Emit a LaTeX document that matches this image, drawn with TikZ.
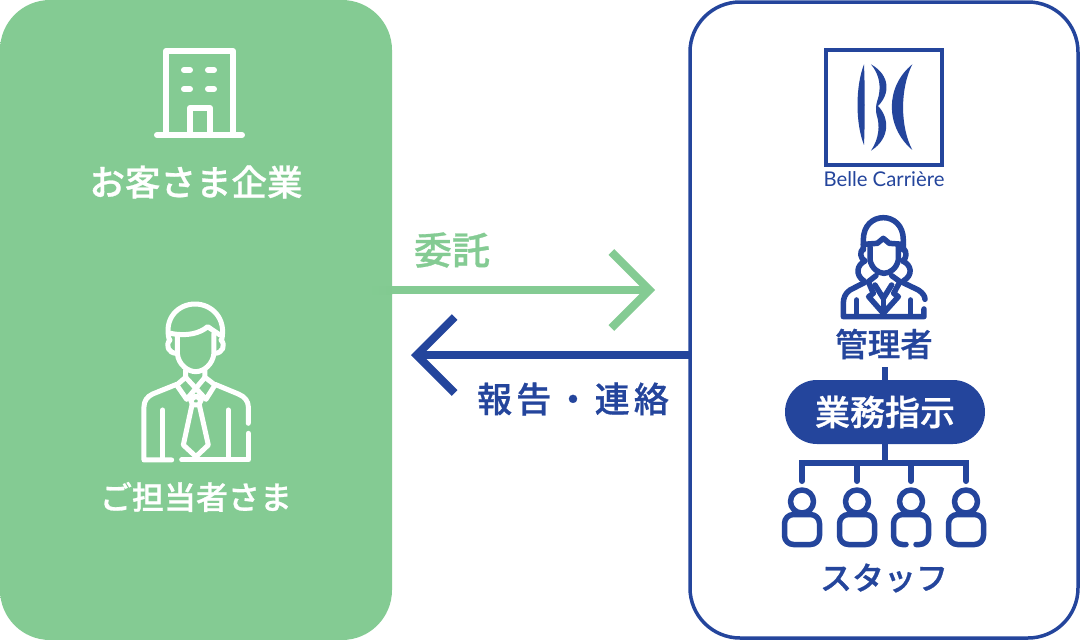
\documentclass[tikz,border=0pt]{standalone}
\usepackage{fontspec}
\usetikzlibrary{arrows.meta}
\newfontfamily\jp[FakeBold=0.8]{Noto Sans CJK JP Medium}
\newfontfamily\jpw[LetterSpace=12,FakeBold=0.8]{Noto Sans CJK JP Medium}
\newfontfamily\lat{Lato}
\definecolor{gr}{HTML}{84CB93}
\definecolor{grl}{HTML}{8FD19F}
\definecolor{grd}{HTML}{82CA91}
\definecolor{bl}{HTML}{24459C}
\pgfdeclarehorizontalshading{panelg}{100bp}{color(0bp)=(gr); color(87bp)=(gr); color(100bp)=(grl)}
\newcommand{\fs}[1]{\fontsize{#1}{#1}\selectfont}
\tikzset{
 x=1pt,y=-1pt,
 wicon/.style={draw=white,line width=5pt,line cap=round,line join=round},
 bicon/.style={draw=bl,line width=5.5pt,line cap=round,line join=round},
 wlabel/.style={text=white,font=\jp\fs{35.5}},
 blabel/.style={text=bl,font=\jp\fs{32.5}},
 panel/.style={rounded corners=50pt},
 tree/.style={draw=bl,line width=6pt,line cap=round},
 link/.style={line width=8pt,-{Straight Barb[length=38pt,width=76pt,line width=8pt]}},
}
\begin{document}
\begin{tikzpicture}
\useasboundingbox (0,0) rectangle (1080,640);
% panels
\shade[shading=panelg,panel] (0,0) rectangle (392,640);
\draw[bl,line width=3.5pt,panel,fill=white] (690,2) rectangle (1078,638);
\node[wlabel] (client) at (196,182) {お客さま企業};
\node[wlabel,font=\jp\fs{32}] (person) at (196,497) {ご担当者さま};
% building
\begin{scope}[wicon,line width=6pt]
\draw (166,135) -- (166,51) -- (233,51) -- (233,135);
\draw (157,135) -- (242,135);
\draw (190,135) -- (190,108) -- (210,108) -- (210,135);
\end{scope}
\foreach \wx/\wy in {187/70,211/70,187/89,211/89}
  \draw[wicon,line width=6pt] (\wx-3,\wy) -- (\wx+3,\wy);
% man
\begin{scope}[shift={(120,290)},x=0.3333pt,y=-0.3333pt,wicon,line width=5pt]
\draw (148,150) .. controls (130,85) and (175,42) .. (225,42) .. controls (275,42) and (320,85) .. (305,150);
\draw (152,130) .. controls (200,140) and (240,130) .. (263,110) -- (300,135);
\draw (172,135) -- (172,190) .. controls (175,225) and (205,245) .. (227,245) .. controls (250,245) and (278,225) .. (282,190) -- (282,130);
\draw (150,150) .. controls (135,165) and (145,190) .. (170,190);
\draw (303,150) .. controls (318,165) and (308,190) .. (284,190);
\draw (197,240) -- (197,262) -- (258,328) -- (285,285) -- (255,262) -- (255,240);
\draw (255,262) -- (200,328) -- (170,285) -- (197,262);
\draw (170,283) -- (98,312) .. controls (80,320) and (72,335) .. (72,350) -- (72,510) -- (155,510);
\draw (285,283) -- (355,312) .. controls (375,320) and (385,335) .. (385,350) -- (385,400);
\draw (385,430) -- (385,510) -- (185,510);
\draw (128,360) -- (128,505);
\draw (325,360) -- (325,505);
\draw (212,330) -- (228,318) -- (244,330) -- (236,345) -- (218,345) -- cycle;
\draw (216,345) -- (190,465) -- (228,500) -- (265,465) -- (238,345);
\end{scope}
% logo
\draw[bl,line width=4pt] (826,50) rectangle (942,165);
\begin{scope}[shift={(800,30)},x=0.3333pt,y=-0.3333pt]
\fill[bl] (192,103) .. controls (166,170) and (166,280) .. (192,345) .. controls (195,280) and (195,170) .. (192,103) -- cycle;
\fill[bl] (213,103) .. controls (270,135) and (272,190) .. (234,228) .. controls (268,262) and (272,325) .. (213,362) .. controls (238,325) and (240,285) .. (230,255) .. controls (226,240) and (228,225) .. (232,212) .. controls (245,175) and (240,135) .. (213,103) -- cycle;
\fill[bl] (337,103) .. controls (255,170) and (255,290) .. (337,360) .. controls (300,290) and (300,175) .. (337,103) -- cycle;
\end{scope}
\node[text=bl,font=\lat\fs{20.3}] (brand) at (884,179) {Belle Carrière};
% woman
\begin{scope}[shift={(820,205)},x=0.3333pt,y=-0.3333pt,bicon,line width=5.5pt]
\draw (130,135) -- (130,105) .. controls (130,60) and (160,38) .. (190,38) .. controls (220,38) and (250,60) .. (250,105) -- (250,135);
\draw (130,118) -- (172,115) -- (190,100) -- (208,115) -- (250,118);
\draw (150,125) -- (150,165) .. controls (155,190) and (175,205) .. (192,205) .. controls (210,205) and (230,190) .. (235,165) -- (235,122);
\draw (130,130) .. controls (118,140) and (120,160) .. (135,168) .. controls (110,180) and (105,210) .. (132,228);
\draw (250,130) .. controls (262,140) and (260,160) .. (248,168) .. controls (275,180) and (280,210) .. (250,228);
\draw (135,232) -- (90,255) .. controls (75,265) and (70,280) .. (70,295) -- (70,335) -- (312,335) -- (312,312);
\draw (247,232) -- (295,255) .. controls (310,265) and (315,275) .. (315,283);
\draw (168,212) -- (145,230) -- (160,265) -- (146,275) -- (190,325) -- (235,275) -- (221,265) -- (240,230) -- (215,212);
\draw (165,240) -- (190,280) -- (215,240);
\draw (190,280) -- (190,325);
\draw (110,285) -- (110,330);
\draw (272,285) -- (272,330);
\end{scope}
\node[blabel] (mgr) at (884,344) {管理者};
\node[fill=bl,rounded corners=32pt,minimum width=200pt,minimum height=64pt,inner sep=0pt,text=white,font=\jp\fs{35}] (task) at (885,412) {業務指示};
\node[blabel,font=\jp\fs{32}] (staff) at (884,578) {スタッフ};
\coordinate (mgrb) at (885,367);
\coordinate (bus) at (885,463);
\draw[draw=bl,line width=6pt] (mgrb) -- (task.north);
\draw[draw=bl,line width=6pt] (task.south) -- (bus);
\draw[draw=bl,line width=6pt,line join=miter] (802,481) -- (802,463) -- (966,463) -- (966,481);
\foreach \tx in {857,911} \draw[tree] (\tx,463) -- (\tx,481);
\draw[tree] (802,481) -- (802,481);
\draw[tree] (966,481) -- (966,481);
% staff icons
\foreach \sx/\gap in {802/0,857/0,911/1,966/0}{
 \begin{scope}[shift={(\sx,0)}]
 \draw[bicon] (0,501.5) circle (11.5pt);
 \ifnum\gap=0
  \draw[bicon,rounded corners=9pt] (-17.5,514.5) rectangle (17.5,544.5);
 \else
  \draw[bicon,rounded corners=9pt] (-5,544.5) -- (-17.5,544.5) -- (-17.5,514.5) -- (17.5,514.5) -- (17.5,544.5) -- (5,544.5);
 \fi
 \end{scope}
}
% link
\coordinate (g0) at (392,290);
\coordinate (g1) at (655,290);
\coordinate (b0) at (690,355);
\coordinate (b1) at (411,355);
\fill[left color=gr,right color=grd] (365,286) rectangle (392,294);
\draw[gr,link] (g0) -- (g1);
\draw[bl,link] (b0) -- (b1);
\node[text=gr,font=\jp\fs{38},anchor=center] (trust) at (452,250) {委託};
\node[text=bl,font=\jpw\fs{35},anchor=center] (report) at (573,399) {報告・連絡};
\end{tikzpicture}
\end{document}
